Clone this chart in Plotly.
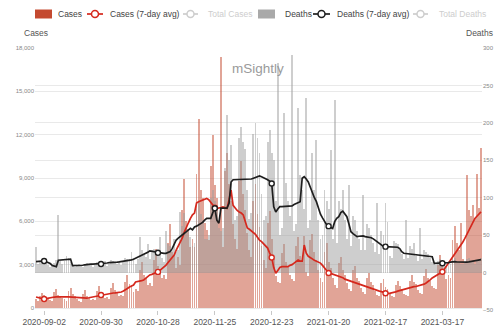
import plotly.graph_objects as go
import pandas as pd

START_DATE = "2020-08-29"

cases_daily = [
    620, 480, 850, 1050, 900, 780, 640,
    560, 500, 1100, 1350, 880, 790, 700,
    600, 520, 1150, 1400, 950, 820, 640,
    500, 430, 980, 1250, 820, 700, 560,
    620, 560, 1200, 1550, 1050, 950, 720,
    780, 650, 1400, 1750, 1250, 1100, 860,
    900, 800, 1800, 2300, 1650, 1500, 1100,
    1300, 1150, 2600, 3200, 2300, 2100, 1600,
    1700, 1500, 3300, 4100, 2900, 2700, 2100,
    2300, 2000, 4500, 5800, 3900, 3600, 2800,
    3500, 3000, 6800, 8900, 6000, 5500, 4200,
    4800, 4200, 9300, 13100, 8200, 7600, 5900,
    5400, 4700, 9800, 12000, 8500, 7600, 6000,
    17400, 4200, 9500, 10700, 8600, 7400, 5800,
    4800, 4100, 8800, 10200, 7900, 6800, 5200,
    4000, 3500, 7400, 8600, 6500, 5600, 4300,
    3300, 2800, 5900, 6700, 4800, 3400, 2200,
    1800, 1700, 3800, 4400, 3200, 2900, 2300,
    2000, 1900, 4300, 4900, 3600, 3300, 5000,
    2500, 2200, 4700, 5100, 3900, 3300, 2600,
    2100, 1800, 3900, 4500, 3200, 2800, 2100,
    1600, 1400, 3100, 3500, 2600, 2300, 1700,
    1300, 1200, 2600, 2900, 2100, 1900, 1400,
    1100, 950, 2100, 2400, 1800, 1600, 1200,
    900, 800, 1700, 2000, 1450, 1300, 950,
    800, 750, 1600, 1900, 1500, 1350, 1000,
    900, 850, 1900, 2300, 1800, 1650, 1250,
    1050, 950, 2200, 2700, 2100, 1900, 1500,
    1400, 1300, 3000, 3700, 2900, 2600, 2000,
    2300, 2100, 4700, 5700, 4500, 4000, 5900,
    3400, 3100, 9200, 6800, 6400, 7100, 6200,
    9300, 6900, 11100,
]

cases_avg = [
    760, 730, 690, 650, 620,
    650, 690, 720, 740, 760,
    770, 780, 780, 790, 780,
    780, 770, 760, 740, 720,
    710, 690, 680, 670, 670,
    690, 710, 740, 760, 800,
    840, 870, 900, 930, 960,
    990, 1020, 1030, 1040, 1050,
    1060, 1080, 1110, 1180, 1250,
    1350, 1450, 1520, 1590, 1800,
    1820, 1850, 1900, 1940, 2050,
    2170, 2290, 2330, 2370, 2420,
    2500, 2600, 2720, 2850, 2970,
    3150, 3350, 3550, 3670, 4000,
    4250, 4500, 4850, 5250, 5630,
    5900, 6200, 6450, 6575, 7270,
    7350, 7420, 7480, 7550, 7590,
    7500, 7300, 7100, 6950, 6900,
    6900, 6950, 7000, 6950, 6900,
    7480, 8170, 7110, 6900, 6750,
    6650, 6575, 6440, 6000, 5540,
    5450, 5350, 5250, 5100, 4900,
    4700, 4600, 4450, 4300, 4150,
    3800, 3500, 2800, 2400, 2600,
    2800, 2860, 2860, 2860, 2860,
    2950, 3000, 3110, 3200, 3320,
    3250, 3250, 4360, 3800, 3580,
    3460, 3400, 3300, 3250, 3180,
    3110, 2950, 2750, 2550, 2420,
    2400, 2350, 2300, 2250, 2200,
    2170, 2100, 2000, 1950, 1880,
    1820, 1780, 1730, 1680, 1630,
    1590, 1550, 1500, 1450, 1400,
    1360, 1310, 1260, 1220, 1170,
    1130, 1080, 1020, 1010, 1010,
    1030, 1060, 1120, 1170, 1210,
    1250, 1300, 1350, 1400, 1440,
    1470, 1480, 1490, 1520, 1560,
    1590, 1650, 1730, 1820, 1950,
    2080, 2170, 2260, 2360, 2430,
    2510, 2700, 2900, 3100, 3320,
    3500, 3700, 3900, 4100, 4300,
    4550, 4800, 5100, 5350, 5600,
    6000, 6200, 6350, 6500, 6650,
]

deaths_daily = [
    34, 12, 16, 18, 15, 14, 10,
    8, 9, 13, 17, 77, 15, 12,
    16, 22, 19, 14, 9, 7, 10,
    12, 9, 8, 11, 13, 12, 10,
    7, 10, 14, 12, 13, 11, 15,
    9, 12, 17, 15, 14, 12, 16,
    10, 14, 19, 18, 16, 27, 20,
    12, 18, 48, 30, 24, 21, 38,
    18, 30, 32, 28, 22, 48, 20,
    14, 55, 38, 35, 30, 45, 28,
    30, 81, 62, 80, 60, 55, 48,
    35, 40, 85, 95, 78, 70, 45,
    45, 50, 100, 110, 95, 82, 60,
    55, 60, 140, 210, 150, 170, 90,
    70, 75, 180, 195, 175, 165, 110,
    72, 80, 185, 200, 180, 160, 105,
    70, 75, 175, 190, 160, 150, 95,
    280, 50, 60, 213, 120, 95, 75,
    290, 55, 65, 220, 130, 110, 85,
    233, 60, 70, 160, 110, 177, 70,
    45, 50, 110, 95, 85, 164, 45,
    230, 40, 95, 85, 110, 70, 45,
    117, 35, 75, 70, 55, 45, 30,
    104, 30, 65, 60, 50, 40, 28,
    93, 25, 55, 50, 93, 68, 22,
    20, 42, 40, 38, 30, 25, 18,
    70, 20, 35, 32, 40, 22, 15,
    60, 18, 30, 28, 25, 20, 14,
    12, 10, 16, 18, 14, 12, 9,
    10, 12, 18, 20, 15, 13, 11,
    12, 14, 18, 19, 16, 14, 12,
    15, 18, 20,
]

deaths_avg = [
    14.6, 14.8, 15, 15.2, 15.5,
    14.5, 13.5, 12, 9.5, 8.5,
    7.9, 16.5, 16.8, 16.8, 16.8,
    16.8, 17.5, 18, 9.2, 9.2,
    9.2, 9.2, 9.2, 9.8, 10.4,
    11, 11, 11.2, 11.2, 11.3,
    11.3, 11.4, 11.5, 12, 12.4,
    12.8, 13.2, 13.2, 13.5, 13.8,
    14, 14.3, 14.6, 15, 15.5,
    16, 16.5, 17, 17.7, 19,
    20, 21, 22.5, 24, 25.7,
    27, 29, 28.5, 28, 27,
    26.5, 26, 25.8, 25.7, 25.7,
    26.5, 28, 32, 37, 43.5,
    46, 48.5, 51, 52.5, 54.6,
    57, 59, 57, 61, 62,
    63.6, 65, 67, 70, 72.5,
    72.5, 72.5, 80, 86, 70,
    66, 86, 86, 86, 86,
    92.5, 121, 124, 124, 124,
    124, 124, 124, 124, 124,
    124, 125, 126, 127, 128,
    129, 128, 127, 126, 124,
    122, 119, 88, 81, 85,
    88, 88, 88, 88, 88,
    88, 89, 91, 92.5, 93.5,
    94.7, 126, 128, 125, 121,
    114, 106, 100, 94.7, 85,
    78, 73, 68, 64, 62,
    61, 59, 68, 72.5, 74.7,
    80, 82, 78, 74.7, 65,
    54.6, 52, 50, 48, 48.5,
    49, 49, 48, 47.5, 47,
    46.6, 45, 43, 41.3, 39,
    37, 35, 34.6, 34.6, 34.6,
    34.4, 34.2, 34, 33.8, 32,
    28, 25.8, 25.5, 25.2, 25,
    24.6, 24.4, 24, 23.5, 23,
    22.5, 22.2, 22, 21.7, 21.4,
    21.2, 12.4, 12.4, 12.4, 12.4,
    12.4, 12.4, 12.8, 13.3, 14,
    14.6, 14.6, 14.4, 14.2, 14,
    13.8, 13.8, 14, 14.3, 14.7,
    15.2, 15.5, 16.2, 16.8, 17.4,
]

tick_dates = ["2020-09-02", "2020-09-30", "2020-10-28", "2020-11-25",
              "2020-12-23", "2021-01-20", "2021-02-17", "2021-03-17"]
cases_ticks = [0, 3000, 6000, 9000, 12000, 15000, 18000]
deaths_ticks = [-50, 0, 50, 100, 150, 200, 250, 300]
legend_labels = ["Cases", "Cases (7-day avg)", "Total Cases",
                 "Deaths", "Deaths (7-day avg)", "Total Deaths"]

dates = pd.date_range(START_DATE, periods=len(cases_daily), freq="D")
mark_idx = [i for i, d in enumerate(dates) if d.strftime("%Y-%m-%d") in tick_dates]

RED = "#d5281d"
BLACK = "#1e1e1e"
CASE_BAR = "#c44a30"
DEATH_BAR = "#9e9e9e"
OFF = "#cdcdcd"
DAY_MS = 86400000
FONT = "Liberation Sans, Arial, sans-serif"

fig = go.Figure()
fig.add_trace(go.Bar(
    x=dates, y=cases_daily, name=legend_labels[0], yaxis="y", showlegend=False,
    width=0.45 * DAY_MS, marker=dict(color=CASE_BAR, opacity=0.5, line_width=0)))
fig.add_trace(go.Bar(
    x=dates, y=deaths_daily, name=legend_labels[3], yaxis="y2", showlegend=False,
    width=0.45 * DAY_MS, marker=dict(color=DEATH_BAR, opacity=0.5, line_width=0)))
fig.add_trace(go.Scatter(
    x=dates, y=deaths_avg, name=legend_labels[4], yaxis="y4", showlegend=False,
    mode="lines+markers", line=dict(color=BLACK, width=1.7),
    marker=dict(symbol="circle", size=5, color="white", line=dict(color=BLACK, width=1.4)),
    selectedpoints=mark_idx, unselected=dict(marker=dict(opacity=0))))
fig.add_trace(go.Scatter(
    x=dates, y=cases_avg, name=legend_labels[1], yaxis="y3", showlegend=False,
    mode="lines+markers", line=dict(color=RED, width=1.7),
    marker=dict(symbol="circle", size=5, color="white", line=dict(color=RED, width=1.4)),
    selectedpoints=mark_idx, unselected=dict(marker=dict(opacity=0))))

ML, MR, MT, MB = 35, 18, 48, 17
W, H = 500, 327
PW, PH = W - ML - MR, H - MT - MB

def px_x(p):
    return (p - ML) / PW

def px_y(p):
    return 1 + (MT - p) / PH

# ---- hand-drawn legend (one row above the plot) ----
LEG_Y = 14
legend_items = [
    # (label index, kind, symbol start px, symbol end px, text start px, colour, text colour)
    (0, "box", 35, 52, 56, CASE_BAR, "#444"),
    (1, "line", 87, 103, 108, RED, "#444"),
    (2, "line", 183, 198, 206, OFF, OFF),
    (3, "box", 258, 275, 283, "#a9a9a9", "#444"),
    (4, "line", 313, 330, 335, BLACK, "#444"),
    (5, "line", 413, 428, 437, OFF, OFF),
]
shapes = []
annotations = []
for idx, kind, s0, s1, tx, col, tcol in legend_items:
    if kind == "box":
        shapes.append(dict(type="rect", xref="paper", yref="paper",
                           x0=px_x(s0), x1=px_x(s1), y0=px_y(LEG_Y + 4.5), y1=px_y(LEG_Y - 4.5),
                           fillcolor=col, line=dict(width=0), layer="above"))
    else:
        shapes.append(dict(type="line", xref="paper", yref="paper",
                           x0=px_x(s0), x1=px_x(s1), y0=px_y(LEG_Y), y1=px_y(LEG_Y),
                           line=dict(color=col, width=1.7), layer="above"))
        cx = (s0 + s1) / 2
        shapes.append(dict(type="circle", xref="paper", yref="paper",
                           x0=px_x(cx - 3.5), x1=px_x(cx + 3.5),
                           y0=px_y(LEG_Y + 3.5), y1=px_y(LEG_Y - 3.5),
                           fillcolor="white", line=dict(color=col, width=1.5), layer="above"))
    annotations.append(dict(text=legend_labels[idx], xref="paper", yref="paper",
                            x=px_x(tx), y=px_y(LEG_Y), xanchor="left", yanchor="middle",
                            showarrow=False, font=dict(family=FONT, size=8.5, color=tcol)))

annotations += [
    dict(text="Cases", xref="paper", yref="paper", x=px_x(22), y=px_y(33),
         xanchor="left", yanchor="middle", showarrow=False,
         font=dict(family=FONT, size=8.5, color="#555")),
    dict(text="Deaths", xref="paper", yref="paper", x=px_x(495), y=px_y(33),
         xanchor="right", yanchor="middle", showarrow=False,
         font=dict(family=FONT, size=8.5, color="#555")),
    dict(text="mSightly", xref="paper", yref="paper", x=px_x(257.5), y=px_y(68),
         xanchor="center", yanchor="middle", showarrow=False,
         font=dict(family=FONT, size=13.5, color="#9a9a9a")),
]

grid = "#e9e9e9"
case_range = [-138, 18000]
death_range = [-50, 300]

fig.update_layout(
    width=W, height=H,
    margin=dict(l=ML, r=MR, t=MT, b=MB, pad=0, autoexpand=False),
    paper_bgcolor="white", plot_bgcolor="white",
    barmode="overlay", bargap=0,
    font=dict(family=FONT, color="#555"),
    showlegend=False,
    xaxis=dict(
        type="date", range=["2020-08-28 12:00", "2021-04-05 12:00"],
        tickvals=tick_dates, ticktext=tick_dates,
        ticks="outside", ticklen=4, tickcolor="#c8c8c8",
        tickfont=dict(family=FONT, size=8.5, color="#555"),
        showgrid=False, showline=False, zeroline=False, automargin=False),
    yaxis=dict(
        range=case_range, tickvals=cases_ticks, tickformat=",",
        tickfont=dict(family=FONT, size=6, color="#888"),
        showgrid=True, gridcolor=grid, gridwidth=1, zeroline=False,
        showline=False, ticks="", automargin=False),
    yaxis2=dict(
        range=death_range, tickvals=deaths_ticks, overlaying="y", side="right",
        tickfont=dict(family=FONT, size=6, color="#888"),
        showgrid=True, gridcolor=grid, gridwidth=1, zeroline=False,
        showline=False, ticks="", automargin=False),
    yaxis3=dict(range=case_range, overlaying="y", visible=False),
    yaxis4=dict(range=death_range, overlaying="y", visible=False),
    shapes=shapes,
    annotations=annotations,
)

fig.write_html("out.html")
